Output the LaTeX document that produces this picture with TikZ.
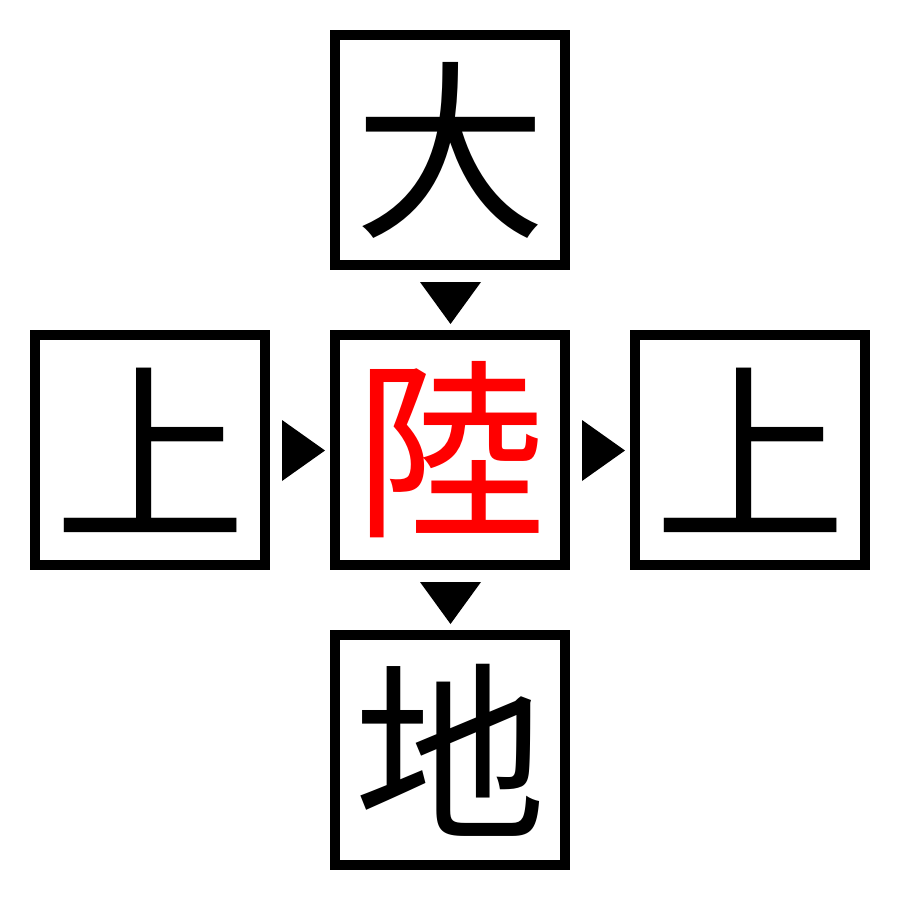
\documentclass[tikz,border=0pt]{standalone}
\usepackage{fontspec}
\newfontfamily\cjk{Noto Sans CJK JP}
\begin{document}
\begin{tikzpicture}[x=1pt,y=-1pt,
  kbox/.style={draw=black,line width=10pt,minimum size=230pt,inner sep=0pt,outer sep=0pt,font=\cjk\fontsize{192}{192}\selectfont},
  tri/.style={fill=black,draw=none}]
\useasboundingbox (0,0) rectangle (900,900);
\node[kbox] (top) at (450,150) {大};
\node[kbox] (left) at (150,450) {上};
\node[kbox,text=red] (mid) at (450,450) {陸};
\node[kbox] (right) at (750,450) {上};
\node[kbox] (bot) at (450,750) {地};
\fill[tri] (420,282) -- (481,282) -- (450.5,324) -- cycle;
\fill[tri] (420,582) -- (481,582) -- (450.5,624) -- cycle;
\fill[tri] (282,420) -- (282,481) -- (325,450.5) -- cycle;
\fill[tri] (582,420) -- (582,481) -- (625,450.5) -- cycle;
\end{tikzpicture}
\end{document}
